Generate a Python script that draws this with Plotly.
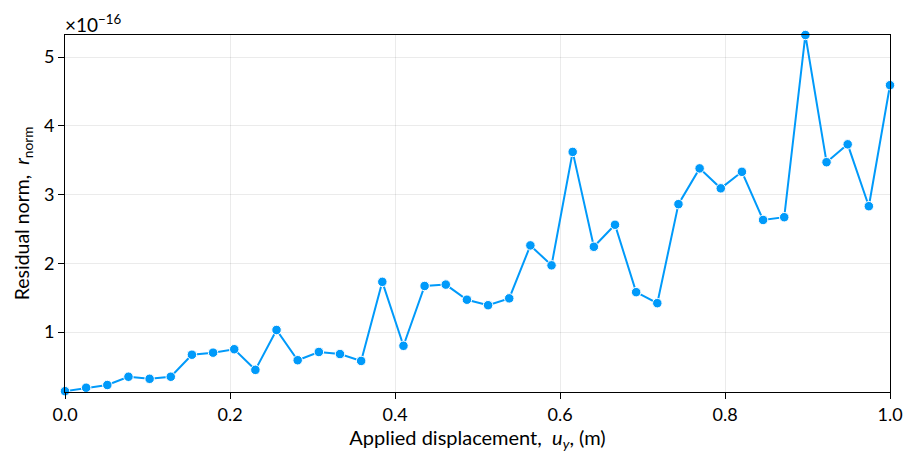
import plotly.graph_objects as go

SCALE_EXP = -16

# displacement samples (40 equally spaced steps from 0 to 1)
n_steps = 40
u_y = [i / (n_steps - 1) for i in range(n_steps)]

# residual norm, in units of 1e-16
r_norm = [
    0.14, 0.19, 0.23, 0.35, 0.32, 0.35, 0.67, 0.70, 0.75, 0.45,
    1.03, 0.59, 0.71, 0.68, 0.58, 1.73, 0.80, 1.67, 1.69, 1.47,
    1.39, 1.49, 2.26, 1.97, 3.62, 2.24, 2.56, 1.58, 1.42, 2.86,
    3.38, 3.09, 3.33, 2.63, 2.67, 5.32, 3.47, 3.73, 2.83, 4.59,
]

x_ticks = [0.0, 0.2, 0.4, 0.6, 0.8, 1.0]
x_tick_text = ["0.0", "0.2", "0.4", "0.6", "0.8", "1.0"]
y_ticks = [1, 2, 3, 4, 5]
y_tick_text = ["1", "2", "3", "4", "5"]

LINE = "#009AFA"
FONT = "Lato"

fig = go.Figure()
fig.add_trace(go.Scatter(
    x=u_y, y=r_norm, mode="lines+markers",
    line=dict(color=LINE, width=2),
    marker=dict(color=LINE, size=9.5, line=dict(color="white", width=1)),
    cliponaxis=False,
    showlegend=False,
))

axis_common = dict(
    showline=True, linecolor="black", linewidth=1, mirror=True,
    ticks="outside", ticklen=6, tickcolor="black", tickwidth=1,
    showgrid=True, gridcolor="rgba(0,0,0,0.08)", gridwidth=1,
    zeroline=False, automargin=False,
    tickfont=dict(family=FONT, size=18, color="black"),
)

fig.update_layout(
    width=909, height=459,
    margin=dict(l=57, r=27, t=27, b=75),
    plot_bgcolor="white", paper_bgcolor="white",
    font=dict(family=FONT, color="black"),
    xaxis=dict(
        range=[0, 1], tickvals=x_ticks, ticktext=x_tick_text,
        title=dict(text="Applied displacement,  <i>u<sub>y</sub></i>, (m)",
                   font=dict(family=FONT, size=20), standoff=7),
        **axis_common,
    ),
    yaxis=dict(
        range=[0.128, 5.32], tickvals=y_ticks, ticktext=y_tick_text,
        title=dict(text="Residual norm,  <i>r</i><sub>norm</sub>",
                   font=dict(family=FONT, size=19.5), standoff=9),
        **axis_common,
    ),
    annotations=[dict(
        xref="paper", yref="paper", x=0, y=1, xanchor="left", yanchor="bottom",
        xshift=-2, yshift=-3, showarrow=False,
        text="×10<sup>−" + str(abs(SCALE_EXP)) + "</sup>",
        font=dict(family=FONT, size=19, color="black"),
    )],
)

fig.write_html("out.html")
